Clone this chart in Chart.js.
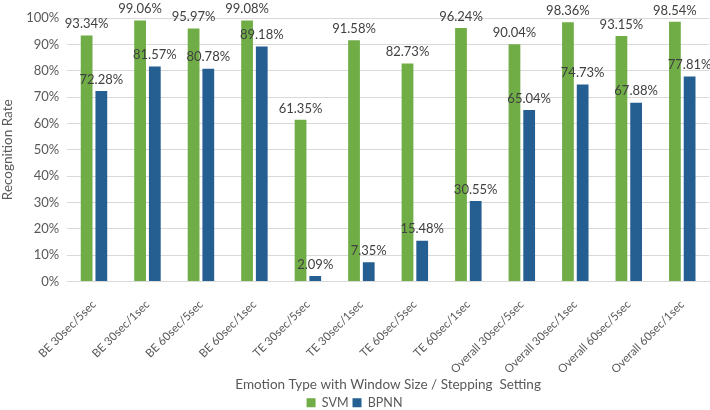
<!DOCTYPE html>
<html>
<head>
<meta charset="utf-8">
<script src="https://cdn.jsdelivr.net/npm/chart.js@4"></script>
<style>
  html, body { margin: 0; padding: 0; background: #fff; }
  #wrap { width: 710px; height: 410px; }
</style>
</head>
<body>
<div id="wrap"><canvas id="grafico" width="710" height="410"></canvas></div>
<script>
// categorias e valores
const categorias = ['BE 30sec/5sec', 'BE 30sec/1sec', 'BE 60sec/5sec', 'BE 60sec/1sec',
    'TE 30sec/5sec', 'TE 30sec/1sec', 'TE 60sec/5sec', 'TE 60sec/1sec',
    'Overall 30sec/5sec', 'Overall 30sec/1sec', 'Overall 60sec/5sec', 'Overall 60sec/1sec'];
const svm = [93.34, 99.06, 95.97, 99.08, 61.35, 91.58, 82.73, 96.24, 90.04, 98.36, 93.15, 98.54];
const bpnn = [72.28, 81.57, 80.78, 89.18, 2.09, 7.35, 15.48, 30.55, 65.04, 74.73, 67.88, 77.81];

const fonte = "Lato, sans-serif";
const cinza = '#595959';

// rótulos de valor acima das barras
const rotulos = {
    id: 'rotulos',
    afterDatasetsDraw(chart) {
        const ctx = chart.ctx;
        ctx.save();
        ctx.font = '13px ' + fonte;
        ctx.fillStyle = '#404040';
        ctx.textAlign = 'center';
        ctx.textBaseline = 'bottom';
        chart.data.datasets.forEach(function(ds, i) {
            chart.getDatasetMeta(i).data.forEach(function(bar, j) {
                ctx.fillText(ds.data[j].toFixed(2) + '%', bar.x, bar.y - 5);
            });
        });
        ctx.restore();
    }
};

function montarGrafico() {
    const ctx = document.getElementById('grafico');
    new Chart(ctx, {
        type: 'bar',
        data: {
            labels: categorias,
            datasets: [
                { label: 'SVM', data: svm, backgroundColor: '#70AD47' },
                { label: 'BPNN', data: bpnn, backgroundColor: '#255E91' }
            ]
        },
        options: {
            responsive: false,
            animation: false,
            datasets: { bar: { categoryPercentage: 0.55, barPercentage: 0.8 } },
            layout: { padding: { top: 18, right: 1, left: 0, bottom: -9 } },
            scales: {
                x: {
                    afterFit: function(scale) { scale.height = 111; },
                    grid: { display: false },
                    border: { color: '#d9d9d9' },
                    ticks: { color: cinza, font: { family: fonte, size: 11.5 },
                        minRotation: 45, maxRotation: 45, padding: 8 },
                    title: { display: true, text: 'Emotion Type with Window Size / Stepping  Setting',
                        color: cinza, font: { family: fonte, size: 13.5 }, padding: { top: 6, bottom: 0 } }
                },
                y: {
                    min: 0, max: 100,
                    ticks: { stepSize: 10, color: cinza, font: { family: fonte, size: 13 }, padding: 8,
                        callback: function(v) { return v + '%'; } },
                    grid: { color: '#d9d9d9', drawTicks: false },
                    border: { display: false },
                    title: { display: true, text: 'Recognition Rate', color: cinza,
                        font: { family: fonte, size: 13.5 }, padding: { top: 0, bottom: 2 } }
                }
            },
            plugins: {
                legend: {
                    position: 'bottom',
                    labels: { boxWidth: 9, boxHeight: 9, color: cinza, font: { family: fonte, size: 12.5 }, padding: 4 }
                },
                tooltip: { enabled: false }
            }
        },
        plugins: [rotulos]
    });
}

montarGrafico();
</script>
</body>
</html>
